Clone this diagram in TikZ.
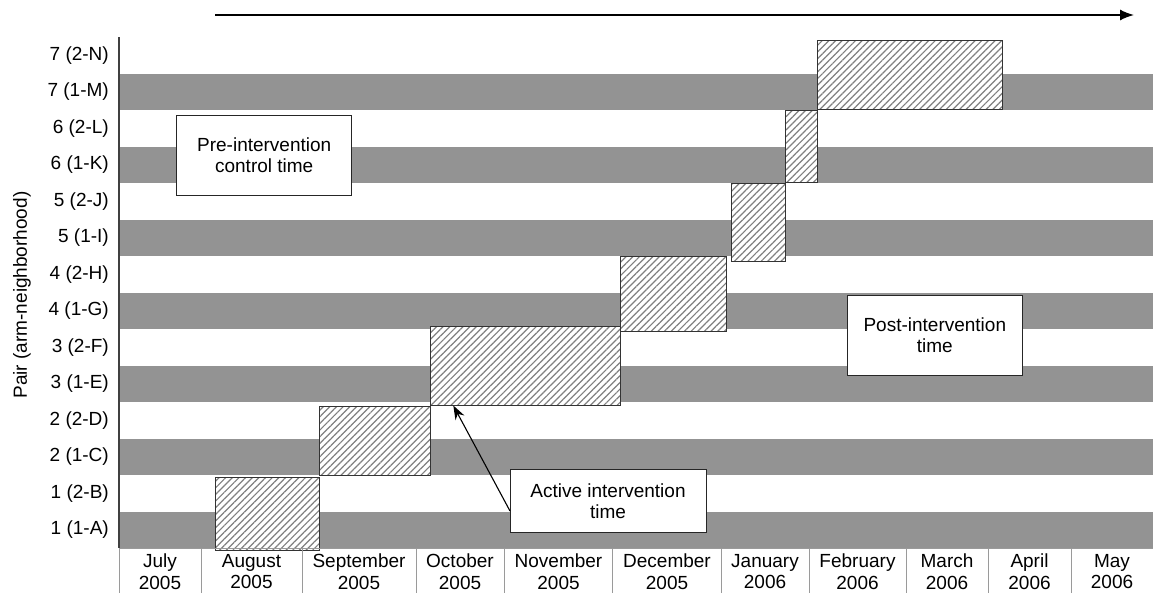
\documentclass[tikz,border=0pt]{standalone}
\usepackage{fontspec}
\setmainfont{Liberation Sans}
\usetikzlibrary{patterns.meta,arrows.meta}
\definecolor{bandgray}{HTML}{939393}
\definecolor{sepgray}{HTML}{9A9A9A}
\begin{document}
\begin{tikzpicture}[x=1pt,y=-1pt,
  band/.style={fill=bandgray,draw=none},
  hatchbox/.style={draw=black!80,line width=0.9pt,preaction={fill=white},
    pattern={Lines[angle=45,distance=4.7pt,line width=1.2pt]},pattern color=black!50},
  labelbox/.style={draw=black!85,line width=0.9pt,fill=white,align=center,
    font=\fontsize{19}{21.5}\selectfont,inner sep=0pt},
  rowlabel/.style={anchor=east,font=\fontsize{19}{21}\selectfont,inner sep=0pt},
  monthlabel/.style={align=center,font=\fontsize{19}{21.5}\selectfont,inner sep=0pt},
  sepline/.style={draw=sepgray,line width=1pt},
  axisline/.style={draw=black!75,line width=1.2pt},
]
\useasboundingbox (0,0) rectangle (1153,597);
% gray bands (rows 1,3,...,13 from the top)
\foreach \i in {1,3,5,7,9,11,13}{
  \fill[band] (119,{37+36.5*\i}) rectangle (1153,{37+36.5*(\i+1)});
}
% row labels
\foreach \t [count=\i from 0] in {7 (2-N),7 (1-M),6 (2-L),6 (1-K),5 (2-J),5 (1-I),4 (2-H),4 (1-G),3 (2-F),3 (1-E),2 (2-D),2 (1-C),1 (2-B),1 (1-A)}{
  \node[rowlabel] (r\i) at (109,{37+36.5*\i+18.25}) {\t};
}
% hatched active intervention periods
\draw[hatchbox] (215,477.5) rectangle (319,550.5);
\draw[hatchbox] (319,406) rectangle (430,475);
\draw[hatchbox] (430,326) rectangle (620.7,405);
\draw[hatchbox] (620.7,256) rectangle (726.5,331.7);
\draw[hatchbox] (731.7,183.3) rectangle (785,261.7);
\draw[hatchbox] (785,110) rectangle (817,182.7);
\draw[hatchbox] (817,40) rectangle (1002.3,109.3);
% axis
\draw[axisline] (119,37) -- (119,548);
\draw[draw=sepgray,line width=0.6pt] (119,548) -- (1153,548);
% month separators
\foreach \x in {119,201,302,416,504.3,612.7,721,809.3,906,988.3,1071}{
  \draw[sepline] (\x,548) -- (\x,593);
}
% month labels
\foreach \m/\y/\x [count=\k] in {July/2005/160,August/2005/251.5,September/2005/359,October/2005/460,November/2005/558.5,December/2005/667,January/2006/765,February/2006/857.5,March/2006/947,April/2006/1029.5,May/2006/1112}{
  \node[monthlabel] (m\k) at (\x,571.5) {\m\\\y};
}
% y-axis title
\node[rotate=90,font=\fontsize{19}{21}\selectfont,inner sep=0pt] (ytitle) at (22,295) {Pair (arm-neighborhood)};
% annotation boxes
\node[labelbox,minimum width=175pt,minimum height=79.3pt] (pre) at (264.2,155.3) {Pre-intervention\\control time};
\node[labelbox,minimum width=175pt,minimum height=80pt] (post) at (934.8,335) {Post-intervention\\time};
\node[labelbox,minimum width=196pt,minimum height=63.4pt] (act) at (608,501) {Active intervention\\time};
% arrows
\coordinate (astart) at (510,511);
\coordinate (aend) at (453.3,405.5);
\draw[line width=1.1pt,-{Stealth[length=14pt,width=10pt]}] (astart) -- (aend);
\coordinate (tstart) at (215,15);
\coordinate (tend) at (1134,15);
\draw[line width=1.6pt,-{Latex[length=14pt,width=11pt]}] (tstart) -- (tend);
\end{tikzpicture}
\end{document}
